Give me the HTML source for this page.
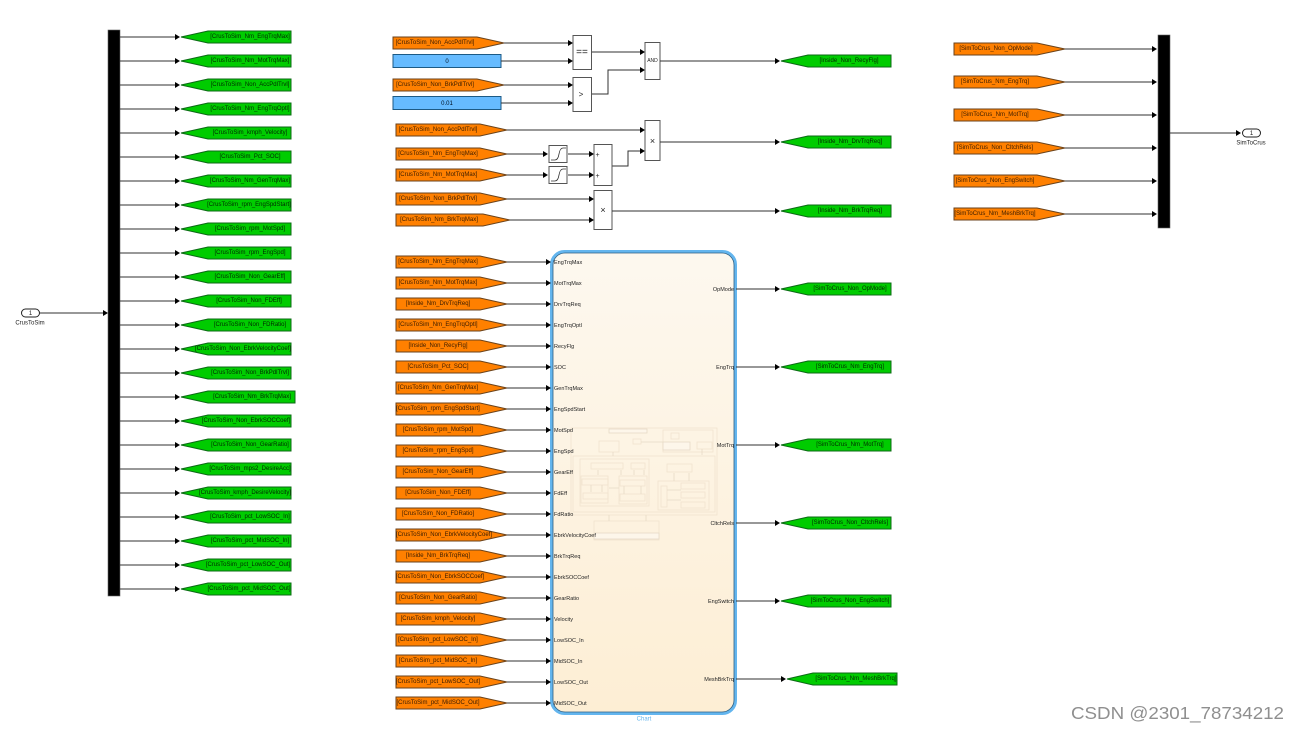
<!DOCTYPE html>
<html><head><meta charset="utf-8"><style>
html,body{margin:0;padding:0;background:#fff;width:1299px;height:732px;overflow:hidden}
svg{display:block;font-family:"Liberation Sans",sans-serif}
text{font-size:6px;fill:#222;text-anchor:middle}
.g text{fill:#002a00}
.o text{fill:#3a1c00}
.l text{text-anchor:start;fill:#222;font-size:5.5px}
.r text{text-anchor:end;fill:#222;font-size:5.5px}
.w{stroke:#333;stroke-width:1;fill:none}
.b{fill:#fff;stroke:#555;stroke-width:1}
.f rect{fill:none;stroke:#f0e3cf;stroke-width:.8}
.f rect.x{fill:#fdf6ea;stroke:#e6dac6}
.f path{stroke:#e6dac6;stroke-width:.8;fill:none}
.gp{fill:#00cc00;stroke:#0a6a14;stroke-width:1}
.op{fill:#ff8000;stroke:#6b431a;stroke-width:1}
</style></head><body>
<svg width="1299" height="732" viewBox="0 0 1299 732" xmlns="http://www.w3.org/2000/svg">
<defs>
<filter id="bl" x="0" y="0" width="100%" height="100%"><feGaussianBlur stdDeviation="0.3"/></filter>
<linearGradient id="cg" x1="0" y1="0" x2="0" y2="1"><stop offset="0" stop-color="#fdf8ef"/><stop offset="1" stop-color="#fdeed4"/></linearGradient>
<path id="a" d="M-5-3L0 0L-5 3Z" fill="#000"/>
<g id="LG"><path class="w" d="M120 0H176"/><use href="#a" x="180"/><polygon class="gp" points="181,0 208,-6 291,-6 291,6 208,6"/></g>
<g id="LG2"><path class="w" d="M120 0H176"/><use href="#a" x="180"/><polygon class="gp" points="181,0 208,-6 295,-6 295,6 208,6"/></g>
<g id="RG"><path class="w" d="M736 0H776"/><use href="#a" x="780"/><polygon class="gp" points="781,0 808,-6 891,-6 891,6 808,6"/></g>
<g id="IN"><polygon class="op" points="396,-6 480,-6 507,0 480,6 396,6"/><path class="w" d="M507 0H547"/><use href="#a" x="551"/></g>
<g id="RO"><polygon class="op" points="954,-6 1037,-6 1065,0 1037,6 954,6"/><path class="w" d="M1065 0H1153"/><use href="#a" x="1157"/></g>
</defs>
<g filter="url(#bl)">
<rect width="1299" height="732" fill="#fff"/>

<!-- left -->
<rect x="108" y="30" width="12" height="566" fill="#000" stroke="#666" stroke-width=".6"/>
<rect x="21.500" y="309" width="18" height="8" rx="4" fill="#fff" stroke="#222"/>
<text x="30.500" y="315">1</text><text x="30" y="324.500">CrusToSim</text>
<path class="w" d="M40 313H103"/><use href="#a" x="108" y="313"/>
<g class="g">
<use href="#LG" y="37"/><text x="250" y="38">[CrusToSim_Nm_EngTrqMax]</text>
<use href="#LG" y="61"/><text x="250" y="62">[CrusToSim_Nm_MotTrqMax]</text>
<use href="#LG" y="85"/><text x="250" y="86">[CrusToSim_Non_AccPdlTrvl]</text>
<use href="#LG" y="109"/><text x="250" y="110">[CrusToSim_Nm_EngTrqOptl]</text>
<use href="#LG" y="133"/><text x="250" y="134">[CrusToSim_kmph_Velocity]</text>
<use href="#LG" y="157"/><text x="250" y="158">[CrusToSim_Pct_SOC]</text>
<use href="#LG" y="181"/><text x="250" y="182">[CrusToSim_Nm_GenTrqMax]</text>
<use href="#LG" y="205"/><text x="249" y="206">[CrusToSim_rpm_EngSpdStart]</text>
<use href="#LG" y="229"/><text x="250" y="230">[CrusToSim_rpm_MotSpd]</text>
<use href="#LG" y="253"/><text x="250" y="254">[CrusToSim_rpm_EngSpd]</text>
<use href="#LG" y="277"/><text x="250" y="278">[CrusToSim_Non_GearEff]</text>
<use href="#LG" y="301"/><text x="249" y="302">[CrusToSim_Non_FDEff]</text>
<use href="#LG" y="325"/><text x="250" y="326">[CrusToSim_Non_FDRatio]</text>
<use href="#LG" y="349"/><text x="243" y="350">[CrusToSim_Non_EbrkVelocityCoef]</text>
<use href="#LG" y="373"/><text x="250" y="374">[CrusToSim_Non_BrkPdlTrvl]</text>
<use href="#LG2" y="397"/><text x="252" y="398">[CrusToSim_Nm_BrkTrqMax]</text>
<use href="#LG" y="421"/><text x="246" y="422">[CrusToSim_Non_EbrkSOCCoef]</text>
<use href="#LG" y="445"/><text x="250" y="446">[CrusToSim_Non_GearRatio]</text>
<use href="#LG" y="469"/><text x="250" y="470">[CrusToSim_mps2_DesireAcc]</text>
<use href="#LG" y="493"/><text x="245" y="494">[CrusToSim_kmph_DesireVelocity]</text>
<use href="#LG" y="517"/><text x="250" y="518">[CrusToSim_pct_LowSOC_In]</text>
<use href="#LG" y="541"/><text x="250" y="542">[CrusToSim_pct_MidSOC_In]</text>
<use href="#LG" y="565"/><text x="248" y="566">[CrusToSim_pct_LowSOC_Out]</text>
<use href="#LG" y="589"/><text x="249" y="590">[CrusToSim_pct_MidSOC_Out]</text>
</g>

<!-- top middle -->
<g class="o">
<polygon class="op" points="393,37 477,37 504,43 477,49 393,49"/><text x="435" y="44">[CrusToSim_Non_AccPdlTrvl]</text>
<polygon class="op" points="393,79 477,79 504,85 477,91 393,91"/><text x="435" y="86">[CrusToSim_Non_BrkPdlTrvl]</text>
<polygon class="op" points="396,124 480,124 507,130 480,136 396,136"/><text x="438" y="131">[CrusToSim_Non_AccPdlTrvl]</text>
<polygon class="op" points="396,148 480,148 507,154 480,160 396,160"/><text x="438" y="155">[CrusToSim_Nm_EngTrqMax]</text>
<polygon class="op" points="396,169 480,169 507,175 480,181 396,181"/><text x="438" y="176">[CrusToSim_Nm_MotTrqMax]</text>
<polygon class="op" points="396,193 480,193 507,199 480,205 396,205"/><text x="438" y="200">[CrusToSim_Non_BrkPdlTrvl]</text>
<polygon class="op" points="396,214 483,214 510,220 483,226 396,226"/><text x="439" y="221">[CrusToSim_Nm_BrkTrqMax]</text>
</g>
<rect x="393" y="54.500" width="108" height="13" fill="#66bbff" stroke="#1f5a85"/><text x="447" y="63" style="fill:#012">0</text>
<rect x="393" y="96.500" width="108" height="13" fill="#66bbff" stroke="#1f5a85"/><text x="447" y="105" style="fill:#012">0.01</text>
<path class="w" d="M504 43H569M501 61H569M504 85H569M501 103H569M592 52H641M592 94H608V70H641M507 130H641M507 154H544M507 175H544M568 154H590M568 175H590M612 166H628V151H641M507 199H590M510 220H590"/>
<use href="#a" x="573" y="43"/><use href="#a" x="573" y="61"/><use href="#a" x="573" y="85"/><use href="#a" x="573" y="103"/>
<use href="#a" x="645" y="52"/><use href="#a" x="645" y="70"/><use href="#a" x="645" y="130"/><use href="#a" x="645" y="151"/>
<use href="#a" x="548" y="154"/><use href="#a" x="548" y="175"/><use href="#a" x="594" y="154"/><use href="#a" x="594" y="175"/>
<use href="#a" x="594" y="199"/><use href="#a" x="594" y="220"/>
<rect class="b" x="573" y="35.500" width="18.500" height="34"/><text x="582" y="55" style="font-size:10px">==</text>
<rect class="b" x="573" y="77.500" width="18.500" height="34"/><text x="581" y="97" style="font-size:8px">&gt;</text>
<rect class="b" x="645" y="42.500" width="15" height="37"/><text x="652.500" y="62" style="font-size:5px">AND</text>
<rect class="b" x="645" y="120.500" width="15" height="40"/><text x="652.500" y="144" style="font-size:9px">×</text>
<rect class="b" x="594" y="144.500" width="18" height="41"/><text x="597.500" y="157" style="font-size:7px">+</text><text x="597.500" y="178" style="font-size:7px">+</text>
<rect class="b" x="594" y="190.500" width="18" height="39"/><text x="603" y="213" style="font-size:9px">×</text>
<rect class="b" x="549" y="145.500" width="18" height="17"/><path d="M551 160H555Q558 160 559 154T563 148H566" fill="none" stroke="#333" stroke-width=".8"/>
<rect class="b" x="549" y="166.500" width="18" height="17"/><path d="M551 181H555Q558 181 559 175T563 169H566" fill="none" stroke="#333" stroke-width=".8"/>
<path class="w" d="M660 61H776M660 142H776M612 211H776"/>
<g class="g">
<use href="#RG" x="0" y="61"/><text x="849" y="62">[Inside_Non_RecyFlg]</text>
<use href="#RG" x="0" y="142"/><text x="850" y="143">[Inside_Nm_DrvTrqReq]</text>
<use href="#RG" x="0" y="211"/><text x="850" y="212">[Inside_Nm_BrkTrqReq]</text>
</g>

<!-- right -->
<rect x="1158" y="35" width="12" height="193" fill="#000" stroke="#666" stroke-width=".6"/>
<g class="o">
<use href="#RO" y="49"/><text x="996" y="50">[SimToCrus_Non_OpMode]</text>
<use href="#RO" y="82"/><text x="995" y="83">[SimToCrus_Nm_EngTrq]</text>
<use href="#RO" y="115"/><text x="995" y="116">[SimToCrus_Nm_MotTrq]</text>
<use href="#RO" y="148"/><text x="995" y="149">[SimToCrus_Non_CltchRels]</text>
<use href="#RO" y="181"/><text x="995" y="182">[SimToCrus_Non_EngSwitch]</text>
<use href="#RO" y="214"/><text x="995" y="215">[SimToCrus_Nm_MeshBrkTrq]</text>
</g>
<path class="w" d="M1170 133H1236"/><use href="#a" x="1241" y="133"/>
<rect x="1242.500" y="129" width="18" height="8" rx="4" fill="#fff" stroke="#222"/>
<text x="1251.500" y="135">1</text><text x="1251" y="144.500">SimToCrus</text>

<!-- chart -->
<rect x="551.500" y="251.500" width="184" height="462" rx="13" fill="url(#cg)" stroke="#63b5ee" stroke-width="3"/>
<rect x="553" y="253" width="181" height="459" rx="12" fill="none" stroke="#2f5f82" stroke-width=".8"/>
<g class="f">
<rect x="571" y="428" width="146" height="87"/><rect x="573" y="456" width="142" height="56"/>
<rect class="x" x="609" y="429" width="38" height="4"/>
<rect x="663" y="430" width="50" height="22"/><rect x="671" y="433" width="8" height="6"/>
<rect class="x" x="663" y="442" width="27" height="8"/><rect x="697" y="442" width="15" height="7"/>
<rect x="599" y="441" width="20" height="11"/><rect x="633" y="439" width="8" height="5"/>
<rect x="580" y="459" width="69" height="47"/><rect x="591" y="463" width="32" height="6"/><rect x="631" y="463" width="14" height="6"/>
<rect x="581" y="476" width="27" height="27"/><rect x="582" y="479" width="26" height="6"/><rect x="583" y="493" width="25" height="6"/>
<rect x="619" y="476" width="28" height="28"/><rect x="620" y="480" width="25" height="6"/><rect x="620" y="494" width="25" height="7"/>
<rect x="667" y="464" width="25" height="8"/><rect x="658" y="481" width="51" height="29"/>
<rect x="661" y="486" width="6" height="21"/><rect x="681" y="483" width="24" height="6"/><rect x="681" y="492" width="24" height="6"/><rect x="681" y="502" width="24" height="6"/>
<rect x="594" y="521" width="65" height="19"/><rect class="x" x="594" y="533" width="65" height="6"/>
<path d="M613 452V456M702 449V455M598 470V475M621 470V475M634 470V475M644 470V475M591 485V492M602 485V492M624 486V494M641 486V494M674 473V481M689 473V481M609 515V521M646 515V521M609 488H619M641 442H663M667 490H681M667 500H681"/>
</g>
<g class="l">
<text x="554" y="264">EngTrqMax</text><text x="554" y="285">MotTrqMax</text><text x="554" y="306">DrvTrqReq</text><text x="554" y="327">EngTrqOptl</text><text x="554" y="348">RecyFlg</text><text x="554" y="369">SOC</text><text x="554" y="390">GenTrqMax</text><text x="554" y="411">EngSpdStart</text><text x="554" y="432">MotSpd</text><text x="554" y="453">EngSpd</text><text x="554" y="474">GearEff</text><text x="554" y="495">FdEff</text><text x="554" y="516">FdRatio</text><text x="554" y="537">EbrkVelocityCoef</text><text x="554" y="558">BrkTrqReq</text><text x="554" y="579">EbrkSOCCoef</text><text x="554" y="600">GearRatio</text><text x="554" y="621">Velocity</text><text x="554" y="642">LowSOC_In</text><text x="554" y="663">MidSOC_In</text><text x="554" y="684">LowSOC_Out</text><text x="554" y="705">MidSOC_Out</text>
</g>
<g class="r">
<text x="734" y="291">OpMode</text><text x="734" y="369">EngTrq</text><text x="734" y="447">MotTrq</text><text x="734" y="525">CltchRels</text><text x="734" y="603">EngSwitch</text><text x="734" y="681">MeshBrkTrq</text>
</g>
<text x="644" y="720.500" style="fill:#63b5ee">Chart</text>
<g class="o">
<use href="#IN" y="262"/><text x="438" y="263">[CrusToSim_Nm_EngTrqMax]</text>
<use href="#IN" y="283"/><text x="438" y="284">[CrusToSim_Nm_MotTrqMax]</text>
<use href="#IN" y="304"/><text x="438" y="305">[Inside_Nm_DrvTrqReq]</text>
<use href="#IN" y="325"/><text x="438" y="326">[CrusToSim_Nm_EngTrqOptl]</text>
<use href="#IN" y="346"/><text x="438" y="347">[Inside_Non_RecyFlg]</text>
<use href="#IN" y="367"/><text x="438" y="368">[CrusToSim_Pct_SOC]</text>
<use href="#IN" y="388"/><text x="438" y="389">[CrusToSim_Nm_GenTrqMax]</text>
<use href="#IN" y="409"/><text x="438" y="410">[CrusToSim_rpm_EngSpdStart]</text>
<use href="#IN" y="430"/><text x="438" y="431">[CrusToSim_rpm_MotSpd]</text>
<use href="#IN" y="451"/><text x="438" y="452">[CrusToSim_rpm_EngSpd]</text>
<use href="#IN" y="472"/><text x="438" y="473">[CrusToSim_Non_GearEff]</text>
<use href="#IN" y="493"/><text x="438" y="494">[CrusToSim_Non_FDEff]</text>
<use href="#IN" y="514"/><text x="438" y="515">[CrusToSim_Non_FDRatio]</text>
<use href="#IN" y="535"/><text x="444" y="536">[CrusToSim_Non_EbrkVelocityCoef]</text>
<use href="#IN" y="556"/><text x="438" y="557">[Inside_Nm_BrkTrqReq]</text>
<use href="#IN" y="577"/><text x="440" y="578">[CrusToSim_Non_EbrkSOCCoef]</text>
<use href="#IN" y="598"/><text x="438" y="599">[CrusToSim_Non_GearRatio]</text>
<use href="#IN" y="619"/><text x="438" y="620">[CrusToSim_kmph_Velocity]</text>
<use href="#IN" y="640"/><text x="438" y="641">[CrusToSim_pct_LowSOC_In]</text>
<use href="#IN" y="661"/><text x="438" y="662">[CrusToSim_pct_MidSOC_In]</text>
<use href="#IN" y="682"/><text x="438" y="683">[CrusToSim_pct_LowSOC_Out]</text>
<use href="#IN" y="703"/><text x="438" y="704">[CrusToSim_pct_MidSOC_Out]</text>
</g>
<g class="g">
<use href="#RG" y="289"/><text x="850" y="290">[SimToCrus_Non_OpMode]</text>
<use href="#RG" y="367"/><text x="850" y="368">[SimToCrus_Nm_EngTrq]</text>
<use href="#RG" y="445"/><text x="850" y="446">[SimToCrus_Nm_MotTrq]</text>
<use href="#RG" y="523"/><text x="850" y="524">[SimToCrus_Non_CltchRels]</text>
<use href="#RG" y="601"/><text x="850" y="602">[SimToCrus_Non_EngSwitch]</text>
<path class="w" d="M736 679H782"/><use href="#a" x="786" y="679"/><polygon class="gp" points="787,679 813,673 897,673 897,685 813,685"/><text x="856" y="680">[SimToCrus_Nm_MeshBrkTrq]</text>
</g>
<text x="1071" y="719" textLength="213" lengthAdjust="spacingAndGlyphs" style="font-size:17.500px;fill:#8f8f8f;text-anchor:start">CSDN @2301_78734212</text>
</g>
</svg>
</body></html>
